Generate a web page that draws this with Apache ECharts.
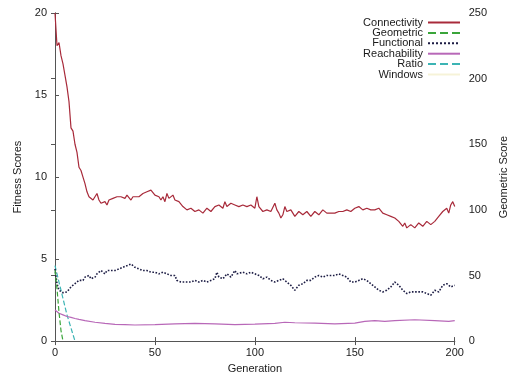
<!DOCTYPE html>
<html>
<head>
<meta charset="utf-8"/>
<title>Fitness Scores</title>
<script src="https://cdn.jsdelivr.net/npm/echarts@6/dist/echarts.min.js"></script>
<style>
  html, body { margin: 0; padding: 0; background: #fff; }
</style>
</head>
<body>
<div id="main" style="width: 517px;height: 379px"></div>
<script type="text/javascript">
  // series names, as in the legend
  var names = ['Connectivity', 'Geometric', 'Functional', 'Reachability', 'Ratio', 'Windows'];

  // Connectivity (left axis) [generation, value]
  var connectivity = [
    [0,20],[1,18.0],[2,18.2],[3,17.4],[4,16.9],[5,16.2],[6,15.5],[7,14.6],[8,13.0],[9,12.8],
    [10,12.0],[11,11.5],[12,10.6],[13,10.4],[14,10.0],[15,9.6],[16,9.1],[17,8.8],[18,8.9],[19,8.6],
    [20,8.8],[21,9.0],[22,8.6],[23,8.4],[24,8.4],[25,8.5],[26,8.3],[27,8.6],[28,8.5],[29,8.7],
    [30,8.6],[31,8.8],[32,8.7],[33,8.8],[34,8.9],[35,8.7],[36,8.9],[37,8.8],[38,8.6],[39,8.8],
    [40,8.9],[42,8.8],[44,9.0],[46,9.1],[48,9.2],[49,9.1],[50,8.9],[52,8.8],[53,8.6],[54,8.8],
    [55,8.5],[56,9.0],[57,8.7],[58,8.6],[59,8.9],[60,8.6],[62,8.5],[64,8.2],[66,8.0],[68,8.1],
    [70,7.9],[72,8.0],[74,7.8],[76,8.1],[78,7.9],[80,8.2],[82,8.3],[84,8.1],[85,8.5],[86,8.2],
    [88,8.4],[90,8.3],[92,8.2],[94,8.3],[96,8.2],[98,8.3],[100,8.1],[101,8.8],[102,8.2],[104,7.9],
    [106,8.0],[108,7.9],[110,8.4],[111,8.0],[112,7.8],[113,7.5],[114,7.7],[115,8.2],[116,7.9],[118,8.0],
    [120,7.6],[122,7.9],[124,7.7],[126,7.9],[128,7.6],[130,7.9],[132,7.7],[134,8.0],[136,7.8],[138,7.8],
    [140,7.8],[142,7.9],[144,7.9],[146,8.0],[148,7.9],[150,8.1],[152,8.2],[154,8.0],[156,8.1],[158,8.0],
    [160,8.0],[162,8.1],[164,7.8],[166,7.7],[168,7.6],[170,7.5],[172,7.3],[174,7.0],[175,7.2],[176,6.9],
    [178,7.1],[180,6.9],[182,7.2],[184,7.0],[186,7.3],[188,7.1],[190,7.3],[192,7.6],[194,7.9],[196,8.1],
    [197,7.8],[198,8.3],[199,8.5],[200,8.2]
  ];

  // Geometric (right axis)
  var geometric = [[0,54],[1,40],[2,22],[3,8],[4,0]];

  // Functional (left axis)
  var functional = [
    [0,4.4],[1,3.5],[2,3.1],[3,3.0],[4,2.95],[5,3.0],[6,3.0],[7,3.1],[8,3.3],[9,3.4],
    [10,3.5],[11,3.6],[12,3.7],[13,3.8],[14,3.7],[15,3.9],[16,4.0],[17,4.0],[18,3.8],[19,3.7],
    [20,3.9],[21,4.1],[22,4.2],[23,4.3],[24,4.2],[25,4.1],[26,4.3],[27,4.4],[28,4.3],[29,4.2],
    [30,4.3],[31,4.2],[32,4.4],[33,4.4],[34,4.5],[35,4.5],[36,4.6],[37,4.6],[38,4.7],[39,4.6],
    [40,4.5],[41,4.4],[42,4.4],[44,4.3],[46,4.3],[48,4.2],[50,4.2],[52,4.1],[54,4.2],[56,4.1],
    [58,4.0],[59,3.9],[60,4.0],[61,3.7],[62,3.8],[63,3.6],[64,3.7],[66,3.6],[68,3.6],[70,3.7],
    [72,3.6],[74,3.7],[76,3.6],[78,3.7],[80,3.8],[81,4.2],[82,3.9],[83,4.0],[84,3.8],[86,4.1],
    [88,3.9],[90,4.3],[91,4.1],[92,4.0],[94,4.2],[96,4.1],[98,4.2],[100,4.1],[102,4.0],[104,3.8],
    [106,3.9],[108,3.7],[110,3.6],[112,3.7],[114,3.8],[116,3.6],[118,3.4],[120,3.1],[121,3.2],[122,3.4],
    [124,3.5],[126,3.7],[128,3.7],[130,3.9],[132,4.0],[134,3.9],[136,4.0],[138,4.0],[140,4.0],[142,4.1],
    [144,4.0],[146,3.9],[148,3.6],[150,3.6],[152,3.7],[154,3.8],[156,3.7],[158,3.5],[160,3.3],[162,3.1],
    [164,3.0],[166,3.1],[168,3.3],[170,3.6],[172,3.4],[174,3.1],[176,2.9],[178,3.0],[180,3.0],[182,3.0],
    [184,3.0],[186,2.9],[188,2.8],[190,3.1],[192,3.0],[194,3.4],[196,3.5],[198,3.3],[200,3.4]
  ];

  // Reachability (left axis)
  var reachability = [
    [0,1.9],[2,1.7],[4,1.6],[6,1.5],[8,1.45],[10,1.38],[12,1.32],[15,1.25],[20,1.15],[25,1.08],
    [30,1.02],[35,1.0],[40,0.98],[50,1.0],[60,1.05],[70,1.08],[80,1.05],[90,1.0],[100,1.03],[110,1.08],
    [115,1.15],[120,1.12],[130,1.1],[140,1.05],[150,1.1],[155,1.2],[160,1.25],[165,1.2],[170,1.25],[180,1.3],
    [190,1.25],[197,1.2],[200,1.25]
  ];

  // Ratio (left axis)
  var ratio = [[0,4.6],[1,4.1],[2,3.6],[3,3.1],[4,2.6],[5,2.1],[6,1.6],[7,1.2],[8,0.8],[9,0.4],[10,0]];

  // Windows: nothing visible in the plot
  var windows = [];

  var colors = ['#a82a3a', '#3aa53a', '#1c1c44', '#b868b8', '#3cb4b4', 'rgba(240,235,190,0.6)'];
  var lineTypes = ['solid', 'dashed', 'dotted', 'solid', 'dashed', 'solid'];
  var axisIdx = [0, 1, 0, 0, 0, 0];
  var datas = [connectivity, geometric, functional, reachability, ratio, windows];

  var myChart = echarts.init(document.getElementById('main'));

  var font = { fontFamily: 'Liberation Sans', fontSize: 11, color: '#1a1a1a' };
  var axisLine = { show: true, lineStyle: { color: '#555', width: 1 } };
  var tick = { show: true, inside: true, length: 4, lineStyle: { color: '#555' } };

  var option = {
    animation: false,
    textStyle: { fontFamily: 'Liberation Sans' },
    grid: { left: 55, right: 44, top: 13, bottom: 35 },
    legend: names.map(function (n, i) {
      return {
        data: [n],
        right: 56,
        top: 17 + i * 10.4,
        align: 'right',
        itemWidth: 32,
        itemHeight: 8,
        padding: 0,
        itemStyle: { opacity: 0 },
        textStyle: { fontFamily: 'Liberation Sans', fontSize: 11, color: '#1a1a1a' },
        selectedMode: false
      };
    }),
    xAxis: [{
      type: 'value', min: 0, max: 200, interval: 50,
      name: 'Generation', nameLocation: 'middle', nameGap: 20,
      nameTextStyle: font,
      axisLine: axisLine,
      axisTick: tick,
      axisLabel: Object.assign({ margin: 6 }, font),
      splitLine: { show: false }
    }, {
      type: 'value', position: 'top', min: 0, max: 200, interval: 50,
      axisLine: axisLine,
      axisTick: tick,
      axisLabel: { show: false },
      splitLine: { show: false }
    }],
    yAxis: [{
      type: 'value', min: 0, max: 20, interval: 5,
      name: 'Fitness Scores', nameLocation: 'middle', nameGap: 31, nameRotate: 90,
      nameTextStyle: font,
      axisLine: axisLine,
      axisTick: tick,
      axisLabel: Object.assign({ margin: 8 }, font),
      splitLine: { show: false }
    }, {
      type: 'value', min: 0, max: 250, interval: 50, position: 'right',
      name: 'Geometric Score', nameLocation: 'middle', nameGap: 35, nameRotate: 90,
      nameTextStyle: font,
      axisLine: axisLine,
      axisTick: tick,
      axisLabel: Object.assign({ margin: 14 }, font),
      splitLine: { show: false }
    }],
    series: names.map(function (n, i) {
      return {
        name: n,
        type: 'line',
        yAxisIndex: axisIdx[i],
        data: datas[i],
        symbol: 'none',
        color: colors[i],
        lineStyle: { color: colors[i], width: i === 2 ? 1.6 : 1.2, type: lineTypes[i] },
        z: 10 - i
      };
    })
  };

  myChart.setOption(option);
</script>
</body>
</html>
